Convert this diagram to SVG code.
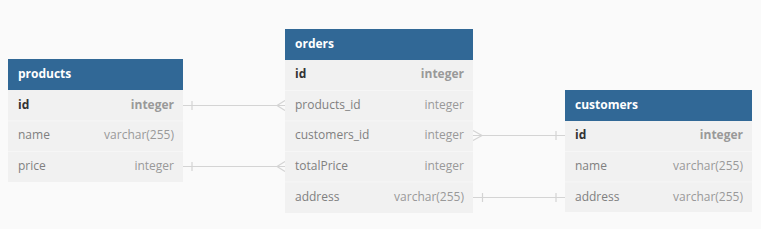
<svg xmlns="http://www.w3.org/2000/svg" width="761" height="229" viewBox="0 0 761 229">
<style>
.bg{fill:#fafafa}
.hd{fill:#316896}
.row{fill:#f1f1f1}
.sep{stroke:#f6f6f6;stroke-width:1}
.title{font-family:"Open Sans",sans-serif;font-size:12px;font-weight:bold;fill:#ffffff}
.pk{font-family:"Open Sans",sans-serif;font-size:12px;font-weight:bold;fill:#333333}
.pkt{font-family:"Open Sans",sans-serif;font-size:12px;font-weight:bold;fill:#999999;text-anchor:end}
.fn{font-family:"Open Sans",sans-serif;font-size:12px;fill:#808080}
.ft{font-family:"Open Sans",sans-serif;font-size:12px;fill:#999999;text-anchor:end}
.ln{stroke:#d4d4d4;stroke-width:1.2;fill:none}
</style>
<rect class="bg" x="0" y="0" width="761" height="229"/>
<g id="connectors">
  <path class="ln" d="M183 105.5H285M192 101V110M285 100.5L277 105.5L285 110.5"/>
  <path class="ln" d="M183 166.5H285M192 162V171M285 161.5L277 166.5L285 171.5"/>
  <path class="ln" d="M473 135.5H565M473 130.5L482 135.5L473 140.5M556 131V140"/>
  <path class="ln" d="M473 197.5H565M482.5 193V202M556 193V202"/>
</g>
<g id="products">
  <rect class="row" x="8" y="90" width="175" height="92"/>
  <line class="sep" x1="8" y1="121" x2="183" y2="121"/>
  <line class="sep" x1="8" y1="151.5" x2="183" y2="151.5"/>
  <rect class="hd" x="8" y="59" width="175" height="31"/>
  <text class="title" x="18" y="78">products</text>
  <text class="pk" x="18" y="109">id</text><text class="pkt" x="174" y="109">integer</text>
  <text class="fn" x="18" y="139">name</text><text class="ft" x="174" y="139">varchar(255)</text>
  <text class="fn" x="18" y="170">price</text><text class="ft" x="174" y="170">integer</text>
</g>
<g id="orders">
  <rect class="row" x="285" y="60" width="188" height="153"/>
  <line class="sep" x1="285" y1="90.5" x2="473" y2="90.5"/>
  <line class="sep" x1="285" y1="121" x2="473" y2="121"/>
  <line class="sep" x1="285" y1="151.5" x2="473" y2="151.5"/>
  <line class="sep" x1="285" y1="182" x2="473" y2="182"/>
  <rect class="hd" x="285" y="29" width="188" height="31"/>
  <text class="title" x="295" y="48">orders</text>
  <text class="pk" x="295" y="78">id</text><text class="pkt" x="464" y="78">integer</text>
  <text class="fn" x="295" y="109">products_id</text><text class="ft" x="464" y="109">integer</text>
  <text class="fn" x="295" y="139">customers_id</text><text class="ft" x="464" y="139">integer</text>
  <text class="fn" x="295" y="170">totalPrice</text><text class="ft" x="464" y="170">integer</text>
  <text class="fn" x="295" y="201">address</text><text class="ft" x="464" y="201">varchar(255)</text>
</g>
<g id="customers">
  <rect class="row" x="565" y="121" width="187" height="91"/>
  <line class="sep" x1="565" y1="151.5" x2="752" y2="151.5"/>
  <line class="sep" x1="565" y1="182" x2="752" y2="182"/>
  <rect class="hd" x="565" y="90" width="187" height="31"/>
  <text class="title" x="575" y="109">customers</text>
  <text class="pk" x="575" y="139">id</text><text class="pkt" x="743" y="139">integer</text>
  <text class="fn" x="575" y="170">name</text><text class="ft" x="743" y="170">varchar(255)</text>
  <text class="fn" x="575" y="201">address</text><text class="ft" x="743" y="201">varchar(255)</text>
</g>
</svg>
